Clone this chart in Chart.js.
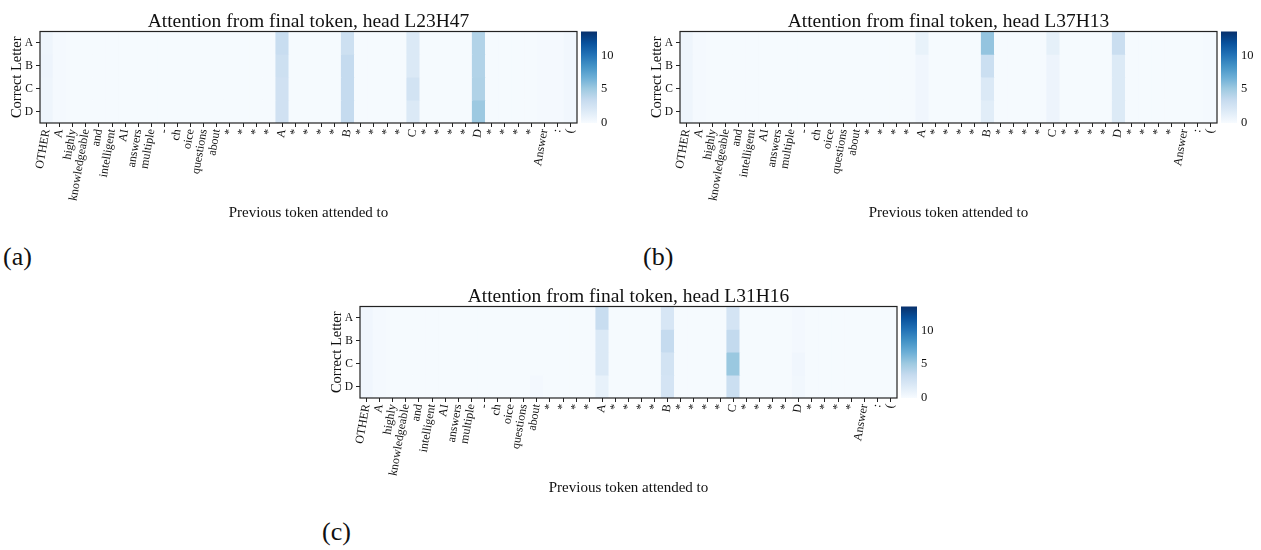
<!DOCTYPE html>
<html>
<head>
<meta charset="utf-8">
<script src="https://cdn.jsdelivr.net/npm/chart.js"></script>
<style>
  body { margin: 0; background: #fff; }
  #page { position: relative; width: 1261px; height: 550px; overflow: hidden; }
  canvas { position: absolute; }
  .tag { position: absolute; font-family: "Liberation Serif", serif; font-size: 26px; color: #111; }
</style>
</head>
<body>
<div id="page">
  <canvas id="chartA" width="640" height="232" style="left:0;top:0"></canvas>
  <canvas id="chartB" width="640" height="232" style="left:640px;top:0"></canvas>
  <canvas id="chartC" width="640" height="232" style="left:320px;top:275px"></canvas>
  <div class="tag" style="left:3px;top:242px">(a)</div>
  <div class="tag" style="left:643px;top:242px">(b)</div>
  <div class="tag" style="left:322px;top:517px">(c)</div>
</div>
<script>
// Tokens on the x axis, answer letters on the y axis
const tokens = ['OTHER', 'A', 'highly', 'knowledgeable', 'and', 'intelligent', 'AI', 'answers',
    'multiple', '-', 'ch', 'oice', 'questions', 'about',
    '*', '*', '*', '*', 'A', '*', '*', '*', '*', 'B', '*', '*', '*', '*', 'C',
    '*', '*', '*', '*', 'D', '*', '*', '*', '*', 'Answer', ':', '('];
const letters = ['A', 'B', 'C', 'D'];
const colorbarTicks = [0, 5, 10];
const vmax = 13.5;

// Attention values, one row per correct letter (41 tokens each)
const headL23H47 = [
    [0.6, 0.2, 0.15, 0.15, 0.15, 0.15, 0.15, 0.15, 0.15, 0.15, 0.15, 0.15, 0.15, 0.15,
     0.15, 0.15, 0.15, 0.15, 3.2, 0.15, 0.15, 0.15, 0.15, 2.9, 0.15, 0.15, 0.15, 0.15, 1.9,
     0.15, 0.15, 0.15, 0.15, 4.2, 0.15, 0.15, 0.15, 0.15, 0.2, 0.2, 0.4],
    [0.7, 0.2, 0.15, 0.15, 0.15, 0.15, 0.15, 0.15, 0.15, 0.15, 0.15, 0.15, 0.15, 0.15,
     0.15, 0.15, 0.15, 0.15, 2.9, 0.15, 0.15, 0.15, 0.15, 3.4, 0.15, 0.15, 0.15, 0.15, 1.9,
     0.15, 0.15, 0.15, 0.15, 4.2, 0.15, 0.15, 0.15, 0.15, 0.2, 0.2, 0.4],
    [0.6, 0.2, 0.15, 0.15, 0.15, 0.15, 0.15, 0.15, 0.15, 0.15, 0.15, 0.15, 0.15, 0.15,
     0.15, 0.15, 0.15, 0.15, 2.7, 0.15, 0.15, 0.15, 0.15, 3.4, 0.15, 0.15, 0.15, 0.15, 2.5,
     0.15, 0.15, 0.15, 0.15, 4.3, 0.15, 0.15, 0.15, 0.15, 0.2, 0.2, 0.4],
    [0.6, 0.2, 0.15, 0.15, 0.15, 0.15, 0.15, 0.15, 0.15, 0.15, 0.15, 0.15, 0.15, 0.15,
     0.15, 0.15, 0.15, 0.15, 2.7, 0.15, 0.15, 0.15, 0.15, 3.4, 0.15, 0.15, 0.15, 0.15, 1.9,
     0.15, 0.15, 0.15, 0.15, 5.1, 0.15, 0.15, 0.15, 0.15, 0.2, 0.2, 0.4]
];

const headL37H13 = [
    [0.6, 0.2, 0.15, 0.15, 0.15, 0.15, 0.15, 0.15, 0.15, 0.15, 0.15, 0.15, 0.15, 0.15,
     0.15, 0.15, 0.15, 0.15, 1.0, 0.15, 0.15, 0.15, 0.15, 5.4, 0.15, 0.15, 0.15, 0.15, 1.2,
     0.15, 0.15, 0.15, 0.15, 3.1, 0.15, 0.15, 0.15, 0.15, 0.15, 0.15, 0.2],
    [0.6, 0.2, 0.15, 0.15, 0.15, 0.15, 0.15, 0.15, 0.15, 0.15, 0.15, 0.15, 0.15, 0.15,
     0.15, 0.15, 0.15, 0.15, 0.5, 0.15, 0.15, 0.15, 0.15, 3.0, 0.15, 0.15, 0.15, 0.15, 0.7,
     0.15, 0.15, 0.15, 0.15, 1.8, 0.15, 0.15, 0.15, 0.15, 0.15, 0.15, 0.2],
    [0.6, 0.2, 0.15, 0.15, 0.15, 0.15, 0.15, 0.15, 0.15, 0.15, 0.15, 0.15, 0.15, 0.15,
     0.15, 0.15, 0.15, 0.15, 0.5, 0.15, 0.15, 0.15, 0.15, 1.9, 0.15, 0.15, 0.15, 0.15, 0.7,
     0.15, 0.15, 0.15, 0.15, 1.8, 0.15, 0.15, 0.15, 0.15, 0.15, 0.15, 0.2],
    [0.6, 0.2, 0.15, 0.15, 0.15, 0.15, 0.15, 0.15, 0.15, 0.15, 0.15, 0.15, 0.15, 0.15,
     0.15, 0.15, 0.15, 0.15, 0.5, 0.15, 0.15, 0.15, 0.15, 1.5, 0.15, 0.15, 0.15, 0.15, 0.7,
     0.15, 0.15, 0.15, 0.15, 1.8, 0.15, 0.15, 0.15, 0.15, 0.15, 0.15, 0.2]
];

const headL31H16 = [
    [0.5, 0.2, 0.15, 0.15, 0.15, 0.15, 0.15, 0.15, 0.15, 0.15, 0.15, 0.15, 0.15, 0.15,
     0.15, 0.15, 0.15, 0.15, 3.2, 0.15, 0.15, 0.15, 0.15, 2.2, 0.15, 0.15, 0.15, 0.15, 2.4,
     0.15, 0.15, 0.15, 0.15, 0.3, 0.15, 0.15, 0.15, 0.15, 0.15, 0.15, 0.15],
    [0.5, 0.2, 0.15, 0.15, 0.15, 0.15, 0.15, 0.15, 0.15, 0.15, 0.15, 0.15, 0.15, 0.15,
     0.15, 0.15, 0.15, 0.15, 1.9, 0.15, 0.15, 0.15, 0.15, 3.4, 0.15, 0.15, 0.15, 0.15, 3.5,
     0.15, 0.15, 0.15, 0.15, 0.3, 0.15, 0.15, 0.15, 0.15, 0.15, 0.15, 0.15],
    [0.5, 0.2, 0.15, 0.15, 0.15, 0.15, 0.15, 0.15, 0.15, 0.15, 0.15, 0.15, 0.15, 0.15,
     0.15, 0.15, 0.15, 0.15, 1.9, 0.15, 0.15, 0.15, 0.15, 2.5, 0.15, 0.15, 0.15, 0.15, 5.2,
     0.15, 0.15, 0.15, 0.15, 0.5, 0.15, 0.15, 0.15, 0.15, 0.15, 0.15, 0.15],
    [0.5, 0.2, 0.15, 0.15, 0.15, 0.15, 0.15, 0.15, 0.15, 0.15, 0.15, 0.15, 0.15, 0.3,
     0.15, 0.15, 0.15, 0.15, 1.1, 0.15, 0.15, 0.15, 0.15, 2.4, 0.15, 0.15, 0.15, 0.15, 3.0,
     0.15, 0.15, 0.15, 0.15, 0.4, 0.15, 0.15, 0.15, 0.15, 0.15, 0.15, 0.15]
];

// matplotlib "Blues" colormap stops
const blueStops = [
    [247, 251, 255], [222, 235, 247], [198, 219, 239], [158, 202, 225], [107, 174, 214],
    [66, 146, 198], [33, 113, 181], [8, 81, 156], [8, 48, 107]
];

const FONT = '"Liberation Serif", "DejaVu Serif", serif';
const INK = '#222';

function blues(v) {
    const t = Math.max(0, Math.min(1, v / vmax)) * (blueStops.length - 1);
    const i = Math.min(Math.floor(t), blueStops.length - 2);
    const f = t - i;
    const a = blueStops[i], b = blueStops[i + 1];
    const c = a.map((x, k) => Math.round(x + (b[k] - x) * f));
    return `rgb(${c[0]}, ${c[1]}, ${c[2]})`;
}

// Frame around the plot, colorbar gradient and the title over the plot
const heatFrame = {
    id: 'heatFrame',
    afterDraw(chart, args, opts) {
        const { ctx, chartArea: a } = chart;
        ctx.save();
        const g = ctx.createLinearGradient(0, a.bottom, 0, a.top);
        blueStops.forEach((c, i) => g.addColorStop(i / (blueStops.length - 1), `rgb(${c.join(',')})`));
        ctx.fillStyle = g;
        ctx.fillRect(a.right + 4, a.top, 16, a.bottom - a.top);

        ctx.strokeStyle = INK;
        ctx.lineWidth = 1.2;
        ctx.strokeRect(a.left, a.top, a.right - a.left, a.bottom - a.top);

        ctx.fillStyle = '#111';
        ctx.font = '19.5px ' + FONT;
        ctx.textAlign = 'center';
        ctx.textBaseline = 'alphabetic';
        ctx.fillText(opts.text, (a.left + a.right) / 2, a.top - 5);
        ctx.restore();
    }
};

function drawHeatmap(canvasId, title, matrix) {
    const datasets = matrix.map((row, r) => ({
        label: letters[r],
        data: row.map(() => [r - 0.5, r + 0.5]),
        backgroundColor: row.map(v => blues(v)),
        borderWidth: 0,
        barPercentage: 1,
        categoryPercentage: 1,
        grouped: false,
        yAxisID: 'y'
    }));

    new Chart(document.getElementById(canvasId).getContext('2d'), {
        type: 'bar',
        data: { labels: tokens, datasets: datasets },
        options: {
            responsive: false,
            animation: false,
            layout: { padding: { top: 28, left: 0, right: 0, bottom: 0 } },
            plugins: {
                legend: { display: false },
                tooltip: { enabled: false },
                heatFrame: { text: title }
            },
            scales: {
                x: {
                    offset: true,
                    grid: { display: true, offset: false, drawOnChartArea: false, drawTicks: true, tickLength: 4, color: INK },
                    border: { display: false },
                    ticks: {
                        autoSkip: false, minRotation: 80, maxRotation: 80, padding: 1,
                        color: '#111', font: { family: FONT, size: 12 }
                    },
                    title: {
                        display: true, text: 'Previous token attended to', color: '#111',
                        font: { family: FONT, size: 15 }, padding: { top: 0, bottom: 10 }
                    },
                    afterFit: s => { s.height = 109; }
                },
                y: {
                    type: 'linear',
                    position: 'left',
                    min: -0.5,
                    max: 3.5,
                    reverse: true,
                    afterBuildTicks: s => { s.ticks = letters.map((_, i) => ({ value: i })); },
                    grid: { display: true, drawOnChartArea: false, drawTicks: true, tickLength: 4, color: INK },
                    border: { display: false },
                    ticks: {
                        callback: v => letters[v], padding: 3,
                        color: '#111', font: { family: FONT, size: 11.5 }
                    },
                    title: {
                        display: true, text: 'Correct Letter', color: '#111',
                        font: { family: FONT, size: 14.5 }, padding: { top: 8, bottom: 0 }
                    },
                    afterFit: s => { s.width = 40; }
                },
                cbar: {
                    type: 'linear',
                    position: 'right',
                    min: 0,
                    max: vmax,
                    afterBuildTicks: s => { s.ticks = colorbarTicks.map(v => ({ value: v })); },
                    grid: { display: false, drawTicks: false },
                    border: { display: false },
                    ticks: { padding: 24, color: '#111', font: { family: FONT, size: 12.5 } },
                    afterFit: s => { s.width = 63; }
                }
            }
        },
        plugins: [heatFrame]
    });
}

document.addEventListener('DOMContentLoaded', function() {
    drawHeatmap('chartA', 'Attention from final token, head L23H47', headL23H47);
    drawHeatmap('chartB', 'Attention from final token, head L37H13', headL37H13);
    drawHeatmap('chartC', 'Attention from final token, head L31H16', headL31H16);
});
</script>
</body>
</html>
